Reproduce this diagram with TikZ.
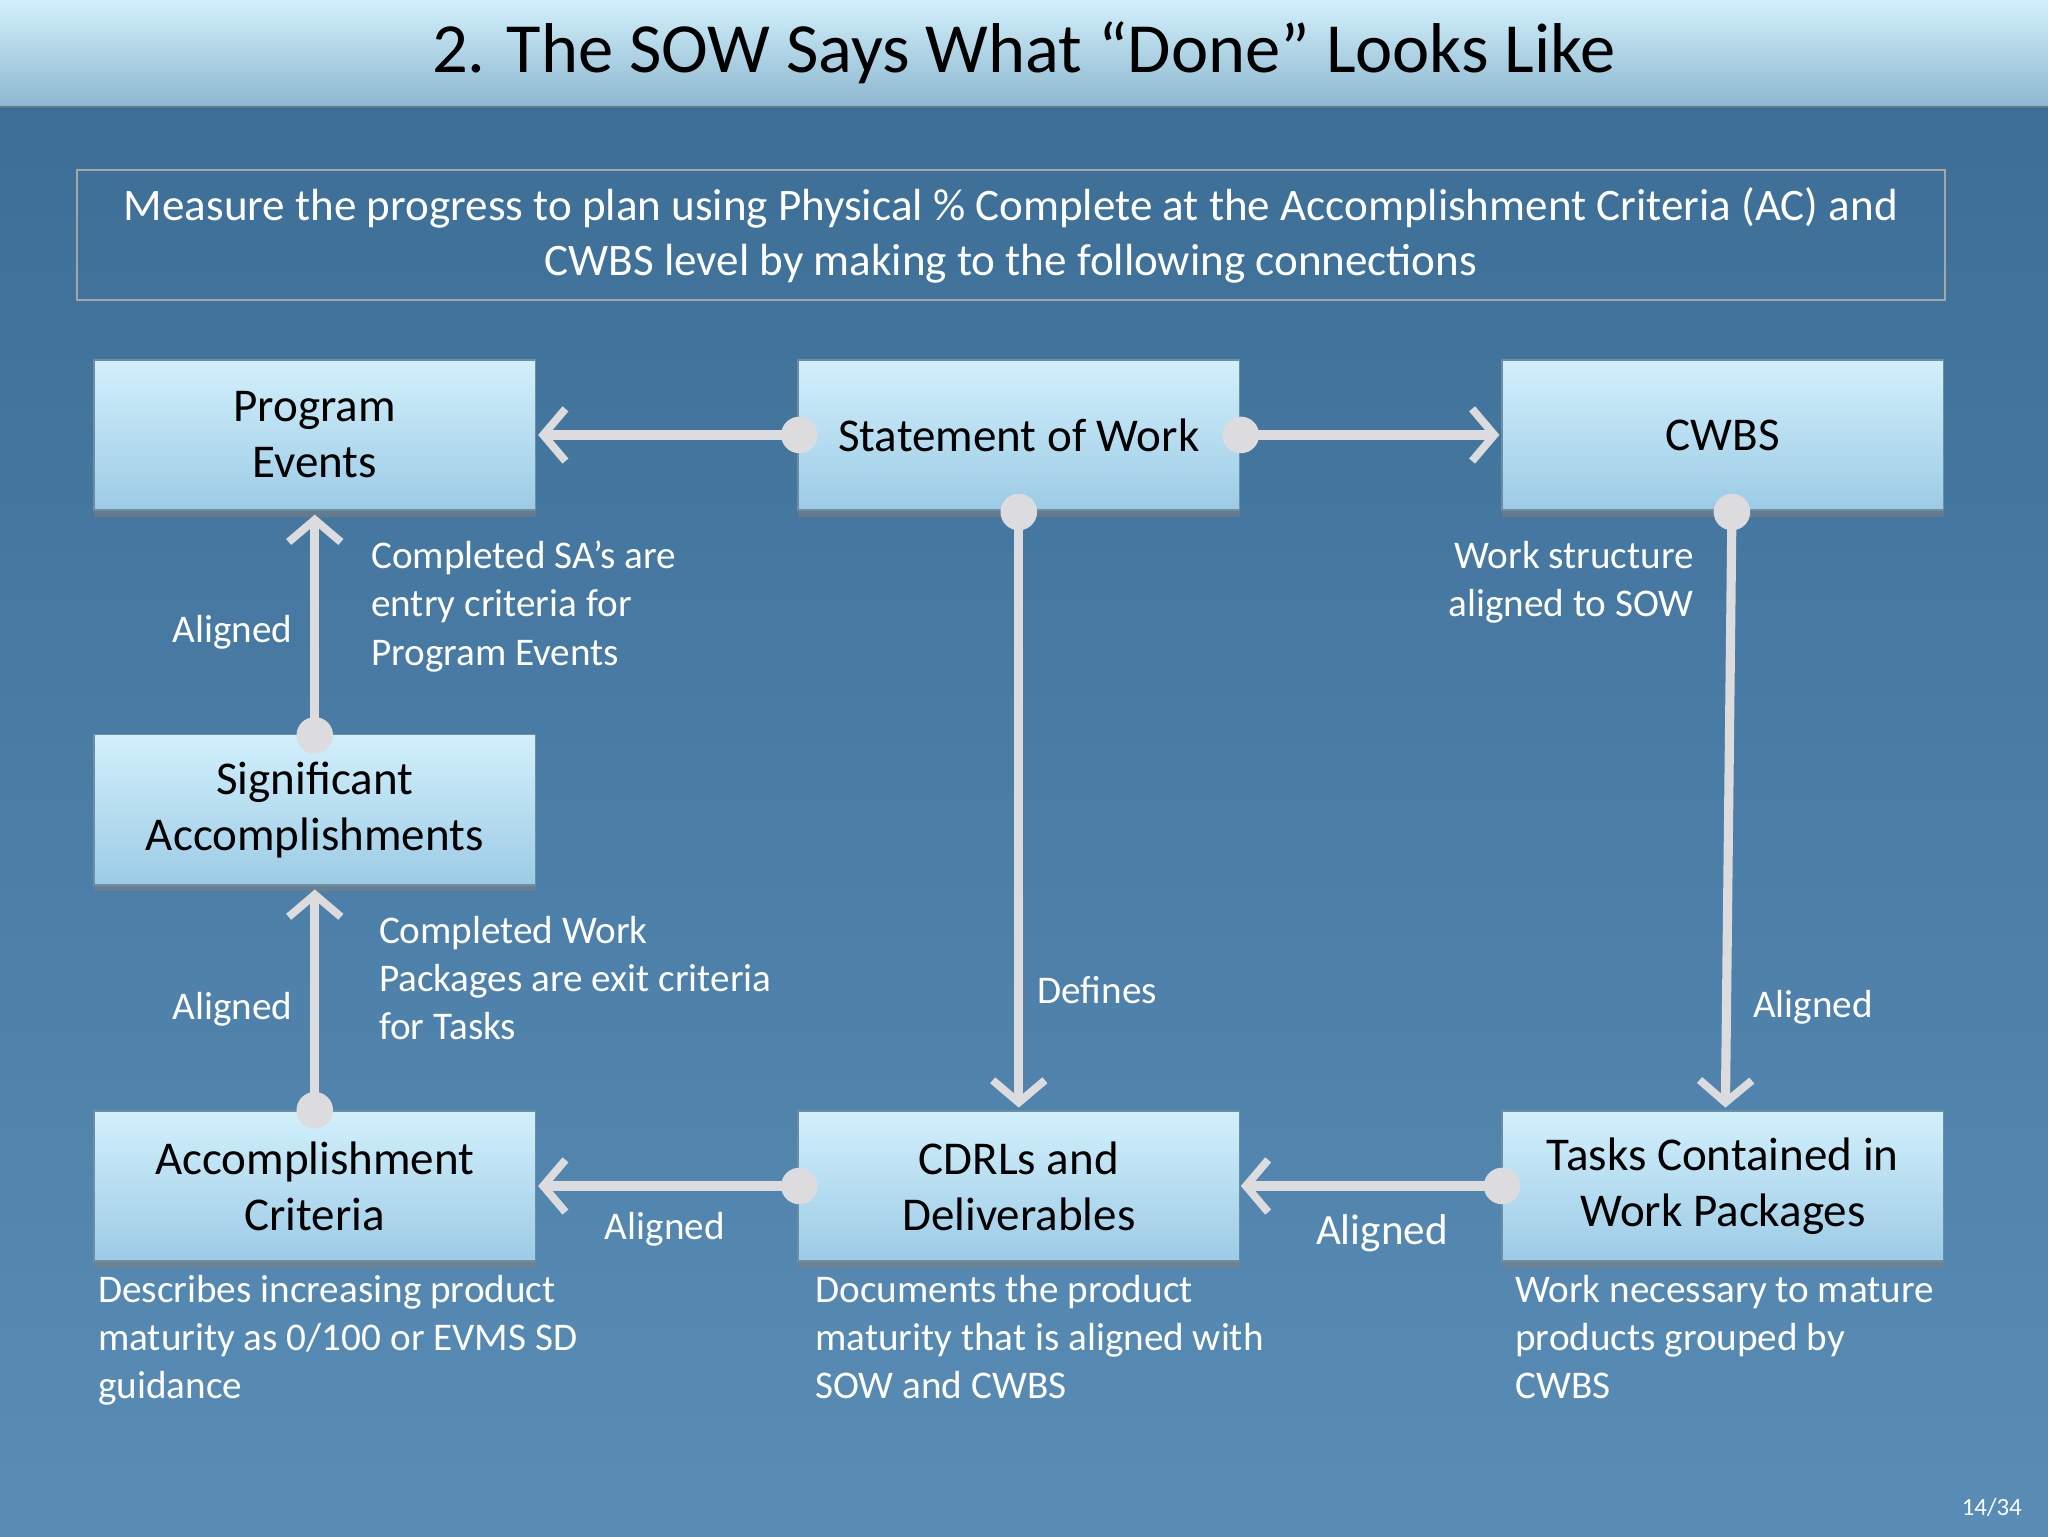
\documentclass[tikz,border=0pt]{standalone}
\usepackage{fontspec}
\setmainfont{Carlito}
\usetikzlibrary{arrows.meta,shadows}
\definecolor{bgA}{HTML}{3A6C94}
\definecolor{bgB}{HTML}{5A8DB6}
\definecolor{boxT}{HTML}{D2F0FB}
\definecolor{boxB}{HTML}{9CCBE6}
\definecolor{conn}{HTML}{DCDCDE}
\tikzset{
  bx/.style={draw=boxB!70!black,line width=1pt,top color=boxT,bottom color=boxB,minimum width=338pt,minimum height=115pt,align=center,font=\fontsize{36}{43}\selectfont,drop shadow={shadow xshift=0pt,shadow yshift=-5pt,opacity=.55}},
  cn/.style={conn,line width=7pt,-{Straight Barb[length=17pt,width=40pt,line width=6pt]}},
  dot/.style={circle,fill=conn,inner sep=0pt,minimum size=28pt},
  lbl/.style={text=white,font=\fontsize{30}{37}\selectfont,inner sep=0pt},
}
\begin{document}
\begin{tikzpicture}[x=1pt,y=-1pt]
\useasboundingbox (0,0) rectangle (1568,1176);
\shade[top color=bgA,bottom color=bgB] (0,0) rectangle (1568,1176);
\shade[top color=boxT,bottom color=boxB!90!black] (0,0) rectangle (1568,82);
\draw[boxB!60!black,line width=2pt] (0,82) -- (1568,82);
\node[font=\fontsize{54}{60}\selectfont] (title) at (784,40) {2. The SOW Says What “Done” Looks Like};
\node[draw=gray!70,line width=1.5pt,minimum width=1430pt,minimum height=99pt,align=center,text=white,font=\fontsize{34.5}{42}\selectfont] (info) at (774,180) {Measure the progress to plan using Physical \% Complete at the Accomplishment Criteria (AC) and\\CWBS level by making to the following connections};

\node[bx] (pe) at (241,333) {Program\\Events};
\node[bx] (sow) at (780,333) {Statement of Work};
\node[bx] (cwbs) at (1319,333) {CWBS};
\node[bx] (sa) at (241,620) {Significant\\Accomplishments};
\node[bx] (ac) at (241,908) {Accomplishment\\Criteria};
\node[bx] (cdrl) at (780,908) {CDRLs and\\Deliverables};
\node[bx] (task) at (1319,908) {Tasks Contained in\\Work Packages};

\coordinate (s1) at (612,333); \coordinate (s2) at (950,333);
\coordinate (s3) at (780,392); \coordinate (c1) at (1326,392);
\coordinate (a1) at (241,563); \coordinate (a2) at (241,850);
\coordinate (d1) at (612,908); \coordinate (t1) at (1150,908);
\draw[cn] (s1) -- (412,333);
\draw[cn] (s2) -- (1148,333);
\draw[cn] (s3) -- (780,848);
\draw[cn] (c1) -- (1321,848);
\draw[cn] (a1) -- (241,394);
\draw[cn] (a2) -- (241,681);
\draw[cn] (d1) -- (412,908);
\draw[cn] (t1) -- (950,908);
\foreach \p in {s1,s2,s3,c1,a1,a2,d1,t1} \node[dot] at (\p) {};

\node[lbl] (l1) at (178,484) {Aligned};
\node[lbl] (l2) at (178,773) {Aligned};
\node[lbl] (l3) at (509,941) {Aligned};
\node[lbl,font=\fontsize{33}{37}\selectfont] (l4) at (1058,944) {Aligned};
\node[lbl] (l5) at (840,758) {Defines};
\node[lbl] (l6) at (1388,771) {Aligned};
\node[lbl,anchor=north west,align=left] (t1l) at (284,414) {Completed SA’s are\\entry criteria for\\Program Events};
\node[lbl,anchor=north west,align=left] (t2l) at (290,701) {Completed Work\\Packages are exit criteria\\for Tasks};
\node[lbl,anchor=north east,align=right] (t3l) at (1297,414) {Work structure\\aligned to SOW};
\node[lbl,anchor=north west,align=left] (d1l) at (75,976) {Describes increasing product\\maturity as 0/100 or EVMS SD\\guidance};
\node[lbl,anchor=north west,align=left] (d2l) at (624,976) {Documents the product\\maturity that is aligned with\\SOW and CWBS};
\node[lbl,anchor=north west,align=left] (d3l) at (1160,976) {Work necessary to mature\\products grouped by\\CWBS};
\node[lbl,font=\fontsize{19}{22}\selectfont] (pg) at (1525,1154) {14/34};
\end{tikzpicture}
\end{document}
